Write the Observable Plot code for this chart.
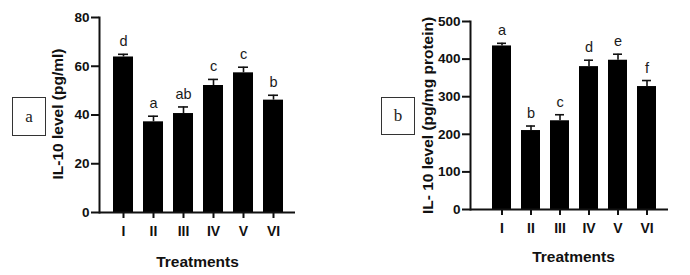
<!DOCTYPE html>
<html>
<head>
<meta charset="utf-8">
<script src="https://cdn.jsdelivr.net/npm/d3@7"></script>
<script src="https://cdn.jsdelivr.net/npm/@observablehq/plot@0.6"></script>
<style>
  html, body { margin: 0; padding: 0; background: #fff; }
  #wrap { position: relative; width: 690px; height: 275px; overflow: hidden; background: #fff; }
  .panel { position: absolute; top: 0; }
  .tag { position: absolute; border: 1.3px solid #333; box-sizing: border-box; display: flex;
         align-items: center; justify-content: center; font-family: "Liberation Serif", "Times New Roman", serif;
         font-size: 17px; color: #222; background: #fff; }
</style>
</head>
<body>
<div id="wrap"></div>
<script>
// ---- data ----
const treatments = ["I", "II", "III", "IV", "V", "VI"];

const valuesA = [63.8, 37.2, 40.6, 52.1, 57.3, 46.1];
const errorsA = [1.1, 2.3, 2.7, 2.5, 2.3, 2.0];
const lettersA = ["d", "a", "ab", "c", "c", "b"];
const yTicksA = [0, 20, 40, 60, 80];

const valuesB = [435, 210, 236, 380, 397, 327];
const errorsB = [7, 12, 16, 17, 16, 16];
const lettersB = ["a", "b", "c", "d", "e", "f"];
const yTicksB = [0, 100, 200, 300, 400, 500];

const labelA = "IL-10 level (pg/ml)";
const labelB = "IL- 10 level (pg/mg protein)";
const xTitle = "Treatments";
const tagA = "a";
const tagB = "b";

const FONT = "'Liberation Sans', Arial, Helvetica, sans-serif";

function panel(cfg) {
  const rows = treatments.map((g, i) => ({g, v: cfg.values[i], e: cfg.errors[i], l: cfg.letters[i]}));
  const top = d => d.v + d.e;
  return Plot.plot({
    width: 345,
    height: 275,
    marginLeft: cfg.ml,
    marginRight: cfg.mr,
    marginTop: cfg.mt,
    marginBottom: cfg.mb,
    style: {fontFamily: FONT, color: "#111", background: "transparent", overflow: "visible"},
    x: {domain: treatments, paddingInner: cfg.pi, paddingOuter: cfg.po, align: cfg.align, label: null},
    y: {domain: [0, cfg.ticks[cfg.ticks.length - 1]], label: null},
    marks: [
      Plot.barY(rows, {x: "g", y: "v", fill: "#000"}),
      Plot.ruleX(rows, {x: "g", y1: "v", y2: top, stroke: "#111", strokeWidth: 1.6}),
      Plot.tickY(rows, {x: "g", y: top, stroke: "#111", strokeWidth: 1.6, insetLeft: 5, insetRight: 5}),
      Plot.text(rows, {x: "g", y: top, text: "l", dy: -8, lineAnchor: "bottom", fontSize: 14.5, fill: "#1a1a1a"}),
      Plot.ruleY([0], {stroke: "#111", strokeWidth: 2}),
      Plot.frame({anchor: "left", stroke: "#111", strokeWidth: 2}),
      Plot.axisY({ticks: cfg.ticks, tickSize: 8, tickPadding: 2, strokeWidth: 2, label: null,
                  fontWeight: "bold", fontSize: 13.5}),
      Plot.axisX({tickSize: 6, tickPadding: 8, strokeWidth: 2, label: null, fontWeight: "bold", fontSize: 14}),
      Plot.text([cfg.ylabel], {frameAnchor: "left", dx: cfg.ylx, dy: cfg.yly, rotate: -90, text: d => d,
                               textAnchor: "middle", lineAnchor: "middle",
                               fontWeight: "bold", fontSize: 15.5, fill: "#111"}),
      Plot.text([xTitle], {frameAnchor: "bottom", dx: cfg.xtx, dy: cfg.xty, text: d => d,
                           textAnchor: "middle", lineAnchor: "middle",
                           fontWeight: "bold", fontSize: 15.5, fill: "#111"})
    ]
  });
}

const wrap = document.getElementById("wrap");

const pA = panel({values: valuesA, errors: errorsA, letters: lettersA, ticks: yTicksA, ylabel: labelA,
  ml: 99, mr: 50, mt: 17, mb: 63, pi: 0.33, po: 0.34, align: 0.53, ylx: -41, yly: -1, xtx: 0, xty: 50});
pA.classList.add("panel");
pA.style.left = "0px";
wrap.appendChild(pA);

const pB = panel({values: valuesB, errors: errorsB, letters: lettersB, ticks: yTicksB, ylabel: labelB,
  ml: 125, mr: 22, mt: 21, mb: 66, pi: 0.353, po: 0.477, align: 0.64, ylx: -42, yly: 0, xtx: 4, xty: 47.5});
pB.classList.add("panel");
pB.style.left = "345px";
wrap.appendChild(pB);

function tag(text, left, top, w, h) {
  const d = document.createElement("div");
  d.className = "tag";
  d.textContent = text;
  Object.assign(d.style, {left: left + "px", top: top + "px", width: w + "px", height: h + "px"});
  wrap.appendChild(d);
}
tag(tagA, 12, 97, 34, 39);
tag(tagB, 381, 97, 34, 38);
</script>
</body>
</html>
